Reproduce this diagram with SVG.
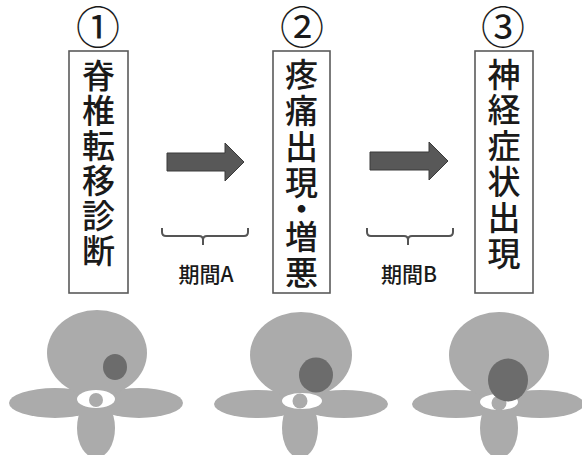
<svg xmlns="http://www.w3.org/2000/svg" width="582" height="455" viewBox="0 0 582 455">
  <style>
    .num { font-family: "Noto Sans CJK JP", sans-serif; font-size: 44px; fill: #1a1a1a; writing-mode: vertical-rl; }
    .vt { font-family: "Noto Sans CJK JP", sans-serif; font-size: 33px; font-weight: 500; fill: #1a1a1a; writing-mode: vertical-rl; }
    .lbl { font-family: "Noto Sans CJK JP", sans-serif; font-size: 21px; font-weight: 500; fill: #1a1a1a; text-anchor: middle; }
    .box { fill: #ffffff; stroke: #5a5a5a; stroke-width: 1.6; }
    .arrow { fill: #585858; stroke: #3a3a3a; stroke-width: 1; }
    .brace { fill: none; stroke: #555555; stroke-width: 2; stroke-linejoin: round; }
    .bone { fill: #ababab; }
    .canal { fill: #ffffff; }
    .cord { fill: #ababab; }
    .tumor { fill: #6c6c6c; }
  </style>

  <!-- stage 1 -->
  <g id="stage1">
    <text class="num" x="98" y="5.5">①</text>
    <rect class="box" x="69" y="51" width="59" height="242"/>
    <text class="vt" x="98.5" y="58.5" letter-spacing="2.1">脊椎転移診断</text>
  </g>

  <!-- stage 2 -->
  <g id="stage2">
    <text class="num" x="302" y="5.5">②</text>
    <rect class="box" x="273" y="51" width="57" height="242"/>
    <text class="vt" x="301.5" y="57.5" letter-spacing="3">疼痛出現<tspan dy="-10">・</tspan><tspan dy="-8">増悪</tspan></text>
  </g>

  <!-- stage 3 -->
  <g id="stage3">
    <text class="num" x="503" y="5.5">③</text>
    <rect class="box" x="475" y="51" width="58" height="242"/>
    <text class="vt" x="504" y="57.5" letter-spacing="2.8">神経症状出現</text>
  </g>

  <!-- connectors: block arrows and interval braces -->
  <g id="connectors">
    <polygon class="arrow" points="167,153 225,153 225,143 244,162 225,181 225,171 167,171"/>
    <polygon class="arrow" points="370,152 429,152 429,142 448,161 429,180 429,170 370,170"/>
    <path class="brace" d="M162,228 V232 Q162,236 166,236 H199 Q203,236 203,240 V245 M203,240 Q203,236 207,236 H244 Q248,236 248,232 V228"/>
    <path class="brace" d="M367,228 V232 Q367,236 371,236 H404 Q408,236 408,240 V245 M408,240 Q408,236 412,236 H449 Q453,236 453,232 V228"/>
  </g>

  <g id="periodA">
    <text class="lbl" x="206" y="282">期間A</text>
  </g>
  <g id="periodB">
    <text class="lbl" x="409" y="282">期間B</text>
  </g>

  <!-- vertebra cross-sections -->
  <g id="vertebra1">
    <ellipse class="bone" cx="55" cy="403" rx="46" ry="15"/>
    <ellipse class="bone" cx="139" cy="403" rx="44" ry="15"/>
    <ellipse class="bone" cx="96" cy="428" rx="19" ry="30"/>
    <ellipse class="bone" cx="97" cy="353" rx="50" ry="43"/>
    <ellipse class="canal" cx="96" cy="399" rx="19" ry="9"/>
    <circle class="cord" cx="96" cy="400" r="7"/>
    <ellipse class="tumor" cx="115" cy="367" rx="12" ry="13"/>
  </g>

  <g id="vertebra2">
    <ellipse class="bone" cx="258" cy="404" rx="44" ry="14"/>
    <ellipse class="bone" cx="344" cy="404" rx="44" ry="14"/>
    <ellipse class="bone" cx="300" cy="428" rx="18" ry="30"/>
    <ellipse class="bone" cx="301" cy="355" rx="51" ry="43"/>
    <ellipse class="canal" cx="302" cy="401" rx="20" ry="8"/>
    <circle class="cord" cx="300" cy="401" r="7.5"/>
    <ellipse class="tumor" cx="316" cy="375" rx="17" ry="17.5"/>
  </g>

  <g id="vertebra3">
    <ellipse class="bone" cx="456" cy="404" rx="44" ry="14"/>
    <ellipse class="bone" cx="540" cy="404" rx="44" ry="14"/>
    <ellipse class="bone" cx="499" cy="428" rx="19" ry="30"/>
    <ellipse class="bone" cx="499" cy="355" rx="50" ry="43"/>
    <ellipse class="canal" cx="499" cy="402" rx="19" ry="8"/>
    <circle class="cord" cx="499" cy="403" r="7.5"/>
    <ellipse class="tumor" cx="508" cy="380" rx="20" ry="21.5"/>
  </g>
</svg>
